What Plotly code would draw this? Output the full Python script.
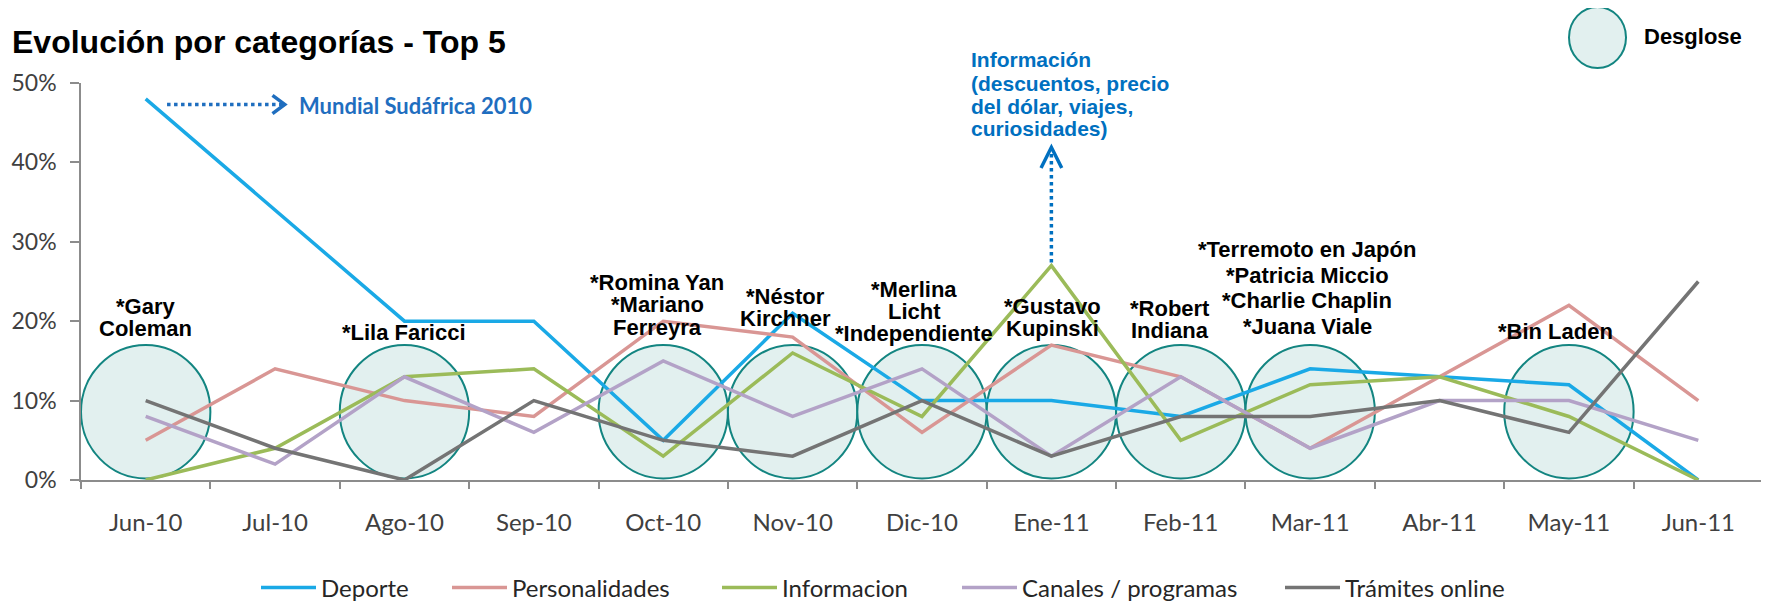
import plotly.graph_objects as go

months = ["Jun-10", "Jul-10", "Ago-10", "Sep-10", "Oct-10", "Nov-10", "Dic-10",
          "Ene-11", "Feb-11", "Mar-11", "Abr-11", "May-11", "Jun-11"]
deporte = [48, 34, 20, 20, 5, 21, 10, 10, 8, 14, 13, 12, 0]
personalidades = [5, 14, 10, 8, 20, 18, 6, 17, 13, 4, 13, 22, 10]
informacion = [0, 4, 13, 14, 3, 16, 8, 27, 5, 12, 13, 8, 0]
canales = [8, 2, 13, 6, 15, 8, 14, 3, 13, 4, 10, 10, 5]
tramites = [10, 4, 0, 10, 5, 3, 10, 3, 8, 8, 10, 6, 25]

y_tickvals = [0, 10, 20, 30, 40, 50]
y_ticktext = ["0%", "10%", "20%", "30%", "40%", "50%"]

series_names = ["Deporte", "Personalidades", "Informacion", "Canales / programas", "Trámites online"]
series_values = [deporte, personalidades, informacion, canales, tramites]
series_colors = ["#1AA9E6", "#D99694", "#9BBB59", "#B3A2C7", "#747474"]

desglose_months = ["Jun-10", "Ago-10", "Oct-10", "Nov-10", "Dic-10", "Ene-11", "Feb-11", "Mar-11", "May-11"]
desglose_labels = [
    ["*Gary", "Coleman"],
    ["*Lila Faricci"],
    ["*Romina Yan", "*Mariano", "Ferreyra"],
    ["*Néstor", "Kirchner"],
    ["*Merlina", "Licht", "*Independiente"],
    ["*Gustavo", "Kupinski"],
    ["*Robert", "Indiana"],
    ["*Terremoto en Japón", "*Patricia Miccio", "*Charlie Chaplin", "*Juana Viale"],
    ["*Bin Laden"],
]
label_yshift = [17, 13, 18, 27, 12, 17, 15, 19, 14]
label_xshift = [0, 0, -6, -7, -8, 1, -11, -3, -13]
label_spacing = [22, 22, 22.5, 22, 22, 22, 22, 25.5, 22]

info_lines = ["Información", "(descuentos, precio", "del dólar, viajes,", "curiosidades)"]

# page body has an 8px margin: the figure sits at (8, 8) in the window
OFF = 8
W, H = 1769 - OFF, 603 - OFF
L, R, T, B = 81 - OFF, 6, 83 - OFF, 123
PW, PH = W - L - R, H - T - B


def px_x(px):  # reference window pixel -> paper x
    return (px - 81) / PW


def px_y(py):  # reference window pixel -> paper y
    return (480 - py) / PH


fig = go.Figure()
legend_x_px = [261, 452, 722, 962, 1285]
for i, (name, vals, color) in enumerate(zip(series_names, series_values, series_colors)):
    lg = "legend" if i == 0 else f"legend{i+1}"
    fig.add_trace(go.Scatter(x=months, y=vals, mode="lines", name=name,
                             line=dict(color=color, width=3.5), legend=lg))

legend_font = dict(family="Lato, sans-serif", size=24, color="#262626")
leg_common = dict(orientation="h", xanchor="left", yanchor="middle", y=px_y(588),
                  font=legend_font, bgcolor="rgba(0,0,0,0)", itemwidth=55)
layout_legends = {}
for i, xp in enumerate(legend_x_px):
    key = "legend" if i == 0 else f"legend{i+1}"
    layout_legends[key] = dict(leg_common, x=px_x(xp - 5))

# Desglose ellipses
for m in desglose_months:
    i = months.index(m)
    fig.add_shape(type="circle", xref="x", yref="y", x0=i - 0.5, x1=i + 0.5, y0=0.2, y1=17,
                  fillcolor="#E2F0EF", line=dict(color="#138581", width=2), layer="below")

annotations = []
lbl_font = dict(family="Liberation Sans, Arial, sans-serif", size=22, color="#000000", weight="bold")
for m, lines, ys, xs, sp in zip(desglose_months, desglose_labels, label_yshift, label_xshift, label_spacing):
    n = len(lines)
    for j, t in enumerate(lines):
        annotations.append(dict(x=m, y=17, xref="x", yref="y", text=t, showarrow=False,
                                xanchor="center", yanchor="middle", xshift=xs,
                                yshift=ys + (n - 1 - j) * sp, font=lbl_font))

blue = "#1F6EBF"
# Mundial arrow (horizontal dotted)
fig.add_shape(type="line", xref="x", yref="y", x0=0.165, x1=1.06, y0=47.3, y1=47.3,
              line=dict(color=blue, width=3.5, dash="dot"))
fig.add_shape(type="path", xref="x", yref="y",
              path="M 0.98 48.45 L 1.075 47.3 L 0.98 46.15",
              line=dict(color=blue, width=3.5))
annotations.append(dict(x=1.17, y=47.2, xref="x", yref="y", text="Mundial Sudáfrica 2010",
                        showarrow=False, xanchor="left", yanchor="middle",
                        font=dict(family="Lato, sans-serif", size=22, color=blue, weight="bold")))

# Información arrow (vertical dotted)
info_blue = "#0070C0"
fig.add_shape(type="line", xref="x", yref="y", x0=7, x1=7, y0=27.4, y1=41.5,
              line=dict(color=info_blue, width=3.5, dash="dot"))
fig.add_shape(type="path", xref="x", yref="y",
              path="M 6.92 39.3 L 7 41.9 L 7.08 39.3",
              line=dict(color=info_blue, width=3.5))
info_ypx = [60, 83, 106, 128]
for t, yp in zip(info_lines, info_ypx):
    annotations.append(dict(x=px_x(969), y=px_y(yp), xref="paper", yref="paper", text=t,
                            showarrow=False, xanchor="left", yanchor="middle",
                            font=dict(family="Liberation Sans, Arial, sans-serif", size=21,
                                      color=info_blue, weight="bold")))

# Desglose key
fig.add_shape(type="circle", xref="paper", yref="paper", x0=px_x(1569), x1=px_x(1626),
              y0=px_y(68), y1=px_y(7), fillcolor="#E2F0EF", line=dict(color="#138581", width=2))
annotations.append(dict(x=px_x(1642), y=px_y(37), xref="paper", yref="paper", text="Desglose",
                        showarrow=False, xanchor="left", yanchor="middle",
                        font=dict(family="Liberation Sans, Arial, sans-serif", size=22,
                                  color="#000000", weight="bold")))

fig.update_layout(
    width=W, height=H,
    margin=dict(l=L, r=R, t=T, b=B, autoexpand=False),
    paper_bgcolor="white", plot_bgcolor="white",
    title=dict(text="Evolución por categorías - Top 5", x=(12 - OFF) / W, xref="container",
               xanchor="left", y=1 - (42 - OFF) / H, yref="container", yanchor="middle",
               font=dict(family="Liberation Sans, Arial, sans-serif", size=32, color="#000000",
                         weight="bold")),
    annotations=annotations,
    showlegend=True,
    **layout_legends,
)
fig.update_xaxes(type="category", range=[-0.5, len(months) - 0.5], autorange=False,
                 showgrid=False, zeroline=False, showline=True,
                 linecolor="#8C8C8C", linewidth=1.5, ticks="outside", tickson="boundaries",
                 ticklen=7, tickcolor="#8C8C8C", tickwidth=1.5,
                 tickfont=dict(family="Lato, sans-serif", size=24, color="#404040"),
                 ticklabelstandoff=20, fixedrange=True)
fig.update_yaxes(range=[0, 50], autorange=False, tickmode="array", tickvals=y_tickvals,
                 ticktext=y_ticktext,
                 showgrid=False, zeroline=False, showline=True, linecolor="#8C8C8C", linewidth=1.5,
                 ticks="outside", ticklen=9, tickcolor="#8C8C8C", tickwidth=1.5,
                 tickfont=dict(family="Lato, sans-serif", size=23, color="#404040"),
                 ticklabelstandoff=9, fixedrange=True)

fig.write_html("out.html")
